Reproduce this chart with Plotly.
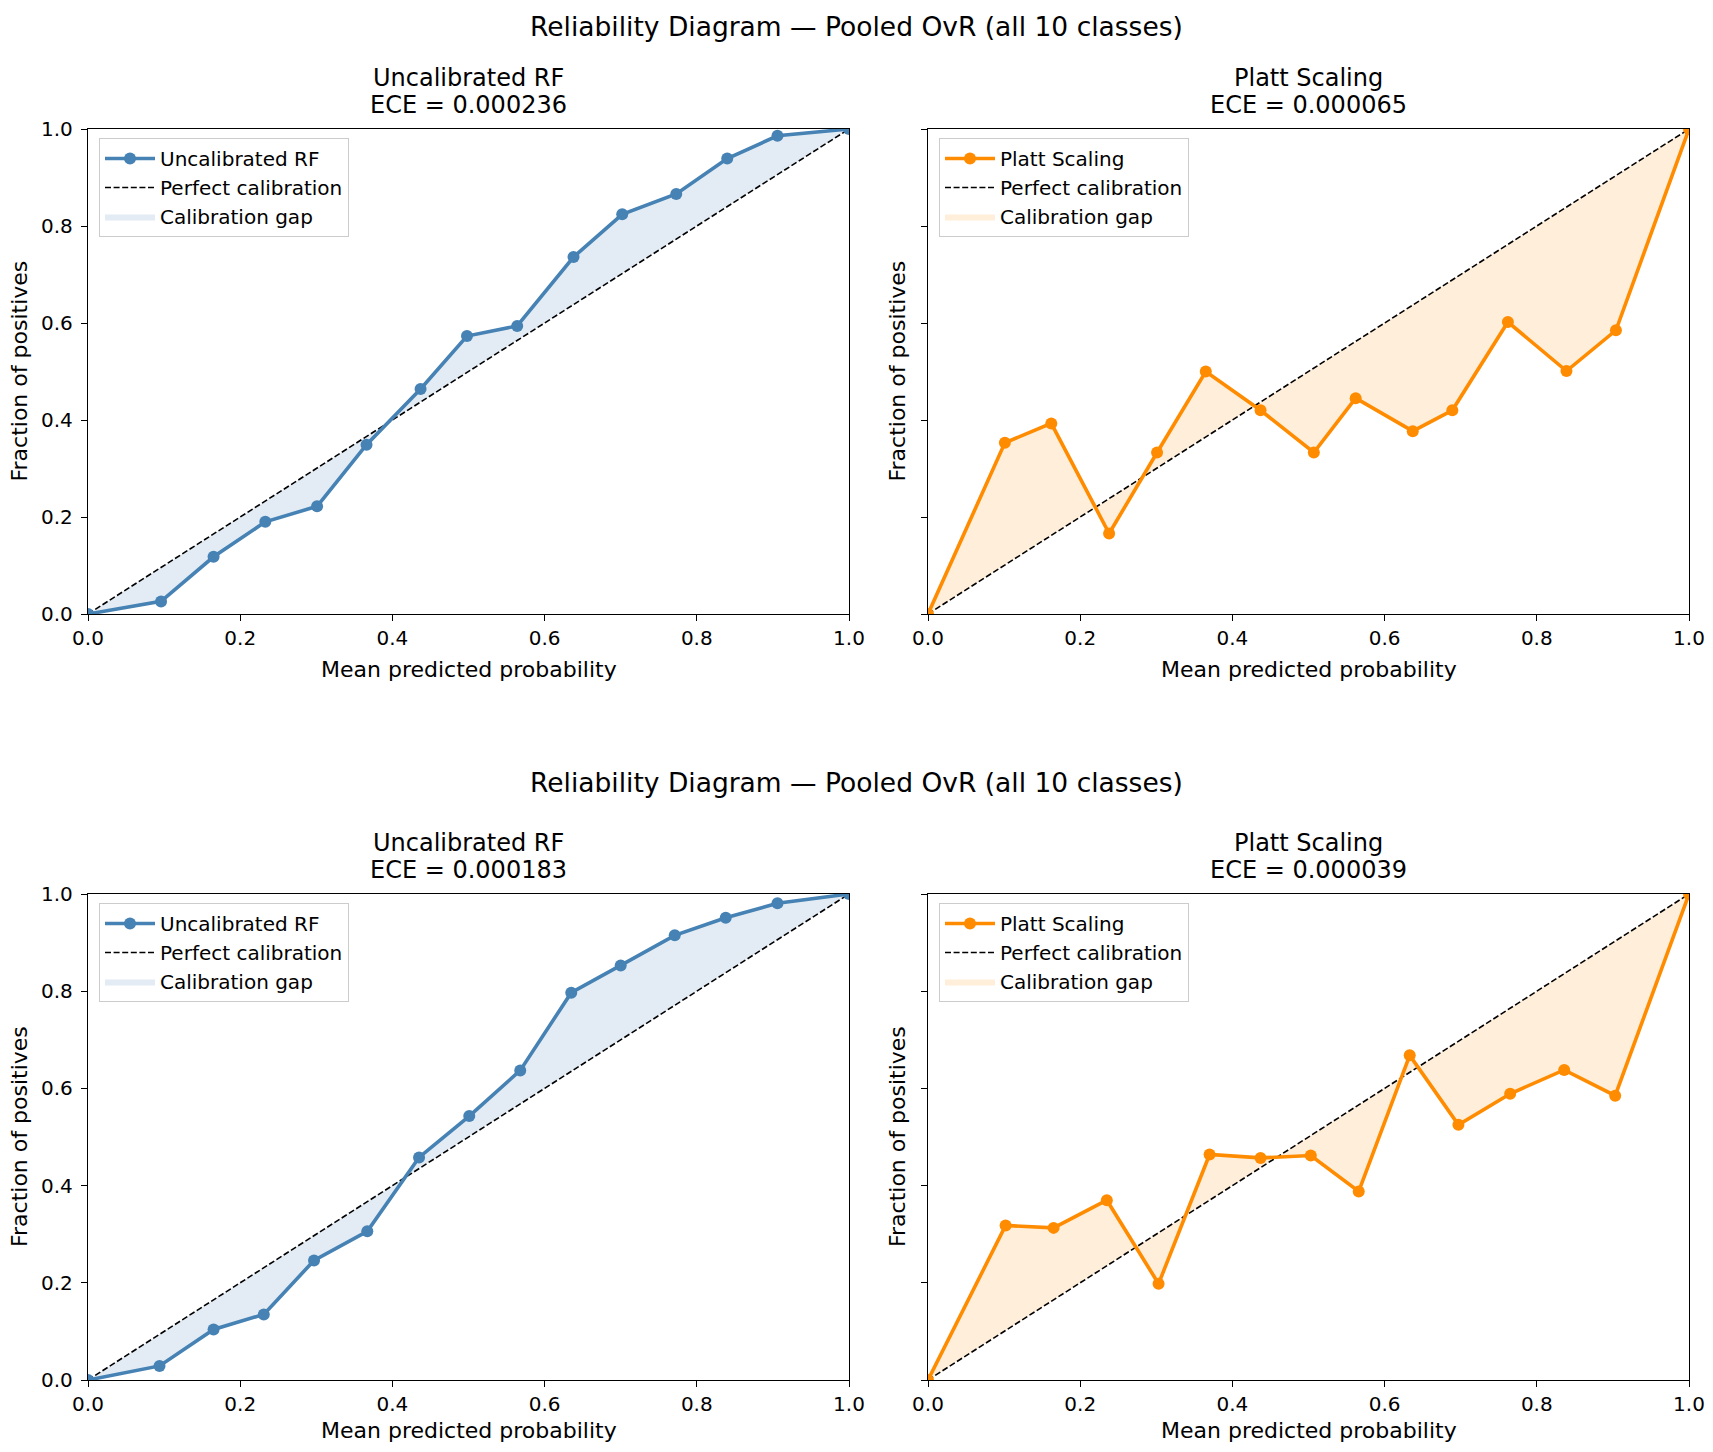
import plotly.graph_objects as go

# reliability curves (mean predicted prob, fraction of positives)
top_rf_x = [0.0, 0.096, 0.165, 0.233, 0.301, 0.366, 0.437, 0.498, 0.564, 0.638, 0.702, 0.773, 0.840, 0.906, 1.0]
top_rf_y = [0.0, 0.026, 0.118, 0.190, 0.222, 0.349, 0.464, 0.573, 0.594, 0.736, 0.824, 0.866, 0.939, 0.986, 1.0]

top_platt_x = [0.0, 0.101, 0.162, 0.238, 0.301, 0.365, 0.437, 0.507, 0.562, 0.637, 0.689, 0.762, 0.839, 0.904, 1.0]
top_platt_y = [0.0, 0.353, 0.393, 0.166, 0.333, 0.500, 0.420, 0.333, 0.445, 0.377, 0.420, 0.602, 0.501, 0.585, 1.0]

bot_rf_x = [0.0, 0.094, 0.165, 0.231, 0.297, 0.367, 0.435, 0.501, 0.568, 0.635, 0.700, 0.771, 0.838, 0.906, 1.0]
bot_rf_y = [0.0, 0.029, 0.104, 0.135, 0.246, 0.306, 0.458, 0.543, 0.637, 0.797, 0.853, 0.915, 0.951, 0.981, 1.0]

bot_platt_x = [0.0, 0.102, 0.165, 0.235, 0.303, 0.370, 0.437, 0.503, 0.566, 0.633, 0.697, 0.765, 0.836, 0.903, 1.0]
bot_platt_y = [0.0, 0.318, 0.313, 0.370, 0.198, 0.464, 0.457, 0.462, 0.388, 0.668, 0.525, 0.589, 0.638, 0.585, 1.0]

perfect = [0.0, 1.0]
tick_vals = [0.0, 0.2, 0.4, 0.6, 0.8, 1.0]

suptitle = "Reliability Diagram \u2014 Pooled OvR (all 10 classes)"
titles = ["Uncalibrated RF", "Platt Scaling", "Uncalibrated RF", "Platt Scaling"]
ece_values = ["0.000236", "0.000065", "0.000183", "0.000039"]

BLUE = "#4682B4"
ORANGE = "#FF8C00"
FONT = "DejaVu Sans"

# the page body adds an 8px margin, so the figure is 16px smaller and shifted
OFF = 8
W, H = 1713 - 2 * OFF, 1452 - 2 * OFF

# panel boxes in page pixels: (left, right, top, bottom)
panels = [
    (88, 849, 129, 614),
    (928, 1689, 129, 614),
    (88, 849, 894, 1380),
    (928, 1689, 894, 1380),
]
curves = [
    (top_rf_x, top_rf_y, BLUE, "rgba(70,130,180,0.15)"),
    (top_platt_x, top_platt_y, ORANGE, "rgba(255,140,0,0.15)"),
    (bot_rf_x, bot_rf_y, BLUE, "rgba(70,130,180,0.15)"),
    (bot_platt_x, bot_platt_y, ORANGE, "rgba(255,140,0,0.15)"),
]


def px(x):
    return (x - OFF) / W


def py(y):
    return 1 - (y - OFF) / H


fig = go.Figure()
annotations = []
layout = {}

for i, ((l, r, t, b), (cx, cy, col, fillcol)) in enumerate(zip(panels, curves)):
    n = "" if i == 0 else str(i + 1)
    xa, ya = "x" + n, "y" + n
    leg = "legend" + n
    left_col = i % 2 == 0

    # base for the gap fill (diagonal at the same x)
    fig.add_trace(go.Scatter(x=cx, y=cx, mode="lines", line=dict(width=0),
                             showlegend=False, hoverinfo="skip", xaxis=xa, yaxis=ya))
    fig.add_trace(go.Scatter(x=cx, y=cy, mode="lines", fill="tonexty", fillcolor=fillcol,
                             line=dict(width=0, color=fillcol), name="Calibration gap",
                             legend=leg, legendrank=3, xaxis=xa, yaxis=ya))
    fig.add_trace(go.Scatter(x=perfect, y=perfect, mode="lines", name="Perfect calibration",
                             line=dict(color="black", width=1.6, dash="6px,2.6px"),
                             legend=leg, legendrank=2, xaxis=xa, yaxis=ya))
    fig.add_trace(go.Scatter(x=cx, y=cy, mode="lines+markers", name=titles[i],
                             line=dict(color=col, width=3.6), marker=dict(color=col, size=12),
                             legend=leg, legendrank=1, xaxis=xa, yaxis=ya))

    axis_common = dict(range=[0, 1], tickvals=tick_vals, tickformat=".1f", automargin=False,
                       showline=True, mirror=True, linecolor="black", linewidth=1.4,
                       ticks="outside", ticklen=6, tickwidth=1.4, tickcolor="black",
                       showgrid=False, zeroline=False, ticklabeloverflow="allow",
                       tickfont=dict(family=FONT, size=20, color="black"))
    layout["xaxis" + n] = dict(axis_common, domain=[px(l), px(r)], anchor=ya)
    layout["yaxis" + n] = dict(axis_common, domain=[py(b), py(t)], anchor=xa,
                               showticklabels=left_col, ticklabelstandoff=4)
    layout[leg] = dict(x=px(l + 11), y=py(t + 9), xanchor="left", yanchor="top",
                       bgcolor="rgba(255,255,255,0.8)", bordercolor="#cccccc", borderwidth=1,
                       font=dict(family=FONT, size=20, color="black"), traceorder="normal",
                       itemwidth=50)

    xc = px((l + r) / 2)
    xlab_y = b + 56 if i < 2 else b + 50
    ylab_x = l - 69 if left_col else l - 31
    annotations.append(dict(text=titles[i], x=xc, y=py(t - 51)))
    annotations.append(dict(text="ECE = " + ece_values[i], x=xc, y=py(t - 24)))
    annotations.append(dict(text="Mean predicted probability", x=xc, y=py(xlab_y),
                            font=dict(family=FONT, size=22, color="black")))
    annotations.append(dict(text="Fraction of positives", x=px(ylab_x), y=py((t + b) / 2),
                            textangle=-90, font=dict(family=FONT, size=22, color="black")))

annotations.append(dict(text=suptitle, x=px(856.5), y=py(26),
                        font=dict(family=FONT, size=26.5, color="black")))
annotations.append(dict(text=suptitle, x=px(856.5), y=py(783),
                        font=dict(family=FONT, size=26.5, color="black")))

for a in annotations:
    a.setdefault("font", dict(family=FONT, size=24, color="black"))
    a.update(xref="paper", yref="paper", showarrow=False, xanchor="center", yanchor="middle")

fig.update_layout(width=W, height=H, margin=dict(l=0, r=0, t=0, b=0, pad=0, autoexpand=False),
                  plot_bgcolor="white", paper_bgcolor="white",
                  annotations=annotations, **layout)

fig.write_html("out.html")
